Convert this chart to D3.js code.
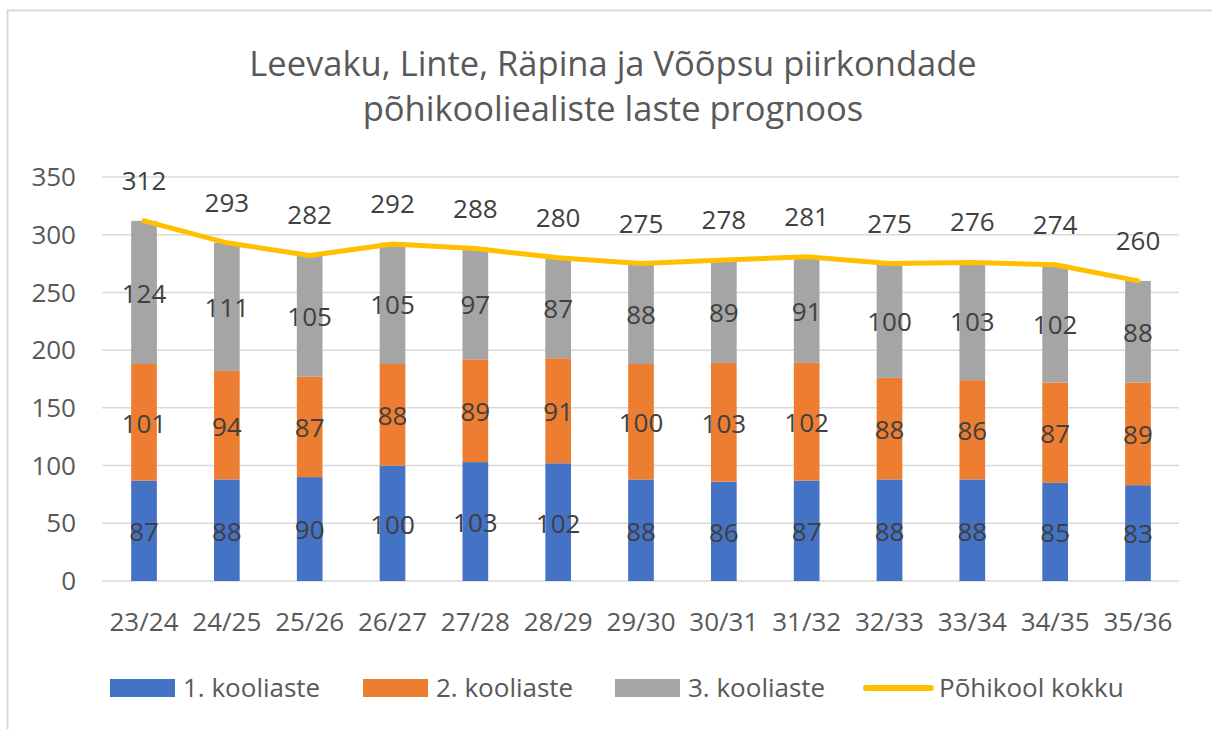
<!DOCTYPE html>
<html>
<head>
<meta charset="utf-8">
<script src="https://cdn.jsdelivr.net/npm/d3@7"></script>
<style>
  body { margin: 0; background: #fff; }
  text { font-family: "Open Sans", sans-serif; fill: #595959; }
</style>
</head>
<body>
<svg id="chart" width="1212" height="729"></svg>
<script>
const years = ["23/24", "24/25", "25/26", "26/27", "27/28", "28/29", "29/30", "30/31", "31/32", "32/33", "33/34", "34/35", "35/36"];
const stage1 = [87, 88, 90, 100, 103, 102, 88, 86, 87, 88, 88, 85, 83];
const stage2 = [101, 94, 87, 88, 89, 91, 100, 103, 102, 88, 86, 87, 89];
const stage3 = [124, 111, 105, 105, 97, 87, 88, 89, 91, 100, 103, 102, 88];
const totals = [312, 293, 282, 292, 288, 280, 275, 278, 281, 275, 276, 274, 260];
const yTicks = [0, 50, 100, 150, 200, 250, 300, 350];
const seriesNames = ["1. kooliaste", "2. kooliaste", "3. kooliaste", "Põhikool kokku"];
const colors = ["#4472C4", "#ED7D31", "#A5A5A5", "#FFC000"];

const svg = d3.select("#chart");

// chart area border
svg.append("rect")
    .attr("x", 7.5).attr("y", 10.5)
    .attr("width", 1230).attr("height", 760)
    .attr("fill", "none").attr("stroke", "#d9d9d9").attr("stroke-width", 2);

// title
const title = svg.append("text").attr("text-anchor", "middle")
    .style("font-size", "34.5px");
title.append("tspan").attr("x", 613).attr("y", 76).text("Leevaku, Linte, Räpina ja Võõpsu piirkondade");
title.append("tspan").attr("x", 613).attr("y", 121).text("põhikooliealiste laste prognoos");

const x = d3.scaleBand().domain(years).range([102.6, 1179.4]).paddingInner(0.69).paddingOuter(0.345);
const y = d3.scaleLinear().domain([0, 350]).range([581, 177]);

// gridlines
svg.append("g").selectAll("line").data(yTicks).join("line")
    .attr("x1", 102).attr("x2", 1179)
    .attr("y1", d => y(d)).attr("y2", d => y(d))
    .attr("stroke", "#d9d9d9").attr("stroke-width", 1.5);

// y tick labels
svg.append("g").selectAll("text").data(yTicks).join("text")
    .attr("x", 76).attr("y", d => y(d)).attr("dy", "0.35em")
    .attr("text-anchor", "end")
    .style("font-size", "26px")
    .text(d => d);

// stacked bars
const rows = years.map((yr, i) => ({ year: yr, s1: stage1[i], s2: stage2[i], s3: stage3[i] }));
const stack = d3.stack().keys(["s1", "s2", "s3"])(rows);

const layers = svg.append("g").selectAll("g").data(stack).join("g")
    .attr("fill", (d, i) => colors[i]);

layers.selectAll("rect").data(d => d).join("rect")
    .attr("x", d => x(d.data.year))
    .attr("width", x.bandwidth())
    .attr("y", d => y(d[1]))
    .attr("height", d => y(d[0]) - y(d[1]));

// segment labels
layers.selectAll("text").data(d => d.map(v => ({ v, key: d.key }))).join("text")
    .attr("x", d => x(d.v.data.year) + x.bandwidth() / 2)
    .attr("y", d => y((d.v[0] + d.v[1]) / 2))
    .attr("dy", "0.4em")
    .attr("text-anchor", "middle")
    .style("font-size", "26px")
    .style("fill", "#404040")
    .text(d => d.v.data[d.key]);

// total line
const line = d3.line()
    .x((d, i) => x(years[i]) + x.bandwidth() / 2)
    .y(d => y(d));

svg.append("path").datum(totals)
    .attr("d", line)
    .attr("fill", "none")
    .attr("stroke", colors[3])
    .attr("stroke-width", 5)
    .attr("stroke-linecap", "round")
    .attr("stroke-linejoin", "round");

svg.append("g").selectAll("text").data(totals).join("text")
    .attr("x", (d, i) => x(years[i]) + x.bandwidth() / 2)
    .attr("y", d => y(d) - 31)
    .attr("text-anchor", "middle")
    .style("font-size", "26px")
    .style("fill", "#404040")
    .text(d => d);

// category labels
svg.append("g").selectAll("text").data(years).join("text")
    .attr("x", d => x(d) + x.bandwidth() / 2)
    .attr("y", 631)
    .attr("text-anchor", "middle")
    .style("font-size", "26px")
    .text(d => d);

// legend
const legendX = [110, 363, 615, 863];
const legend = svg.append("g").selectAll("g").data(seriesNames).join("g")
    .attr("transform", (d, i) => `translate(${legendX[i]},688)`);

legend.filter((d, i) => i < 3).append("rect")
    .attr("x", 0).attr("y", -9).attr("width", 65).attr("height", 18)
    .attr("fill", (d, i) => colors[i]);

legend.filter((d, i) => i === 3).append("line")
    .attr("x1", 3).attr("x2", 68).attr("y1", 0).attr("y2", 0)
    .attr("stroke", colors[3]).attr("stroke-width", 6)
    .attr("stroke-linecap", "round");

legend.append("text")
    .attr("x", (d, i) => i === 3 ? 76 : 73)
    .attr("y", 0).attr("dy", "0.35em")
    .style("font-size", "26px")
    .text(d => d);
</script>
</body>
</html>
